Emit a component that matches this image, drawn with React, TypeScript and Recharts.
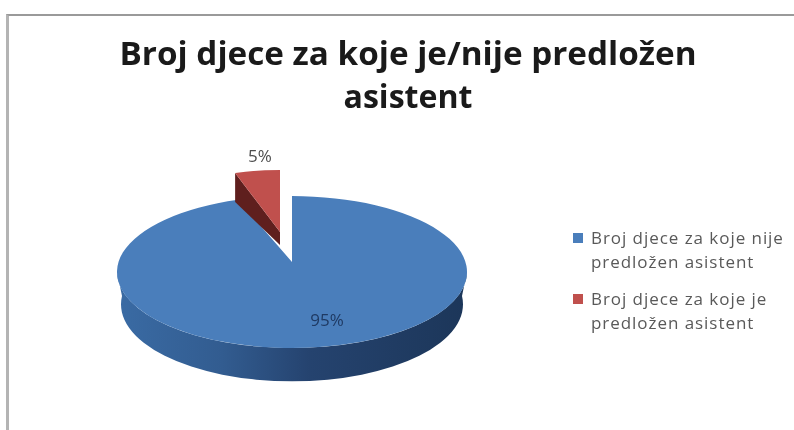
import React from "react";
import { PieChart, Pie, Legend } from "recharts";

const categories = ["Broj djece za koje nije predložen asistent", "Broj djece za koje je predložen asistent"];
const shares = [95, 5];
const legendLines = [
  ["Broj djece za koje nije", "predložen asistent"],
  ["Broj djece za koje je", "predložen asistent"],
];
const titleLines = ["Broj djece za koje je/nije predložen", "asistent"];

const COLORS = ["#4a7ebb", "#c0504d"];
const FONT = "'Open Sans', 'Noto Sans', sans-serif";
const W = 794;
const H = 430;
const CX = 292;
const CY = 272;
const R = 175;
const SQUASH = 0.434;

const rows = categories.map((name, i) => ({ name, value: shares[i], fill: COLORS[i] }));

const rad = (a: number) => (a * Math.PI) / 180;

function Slice3D(props: any) {
  const { cx, cy, outerRadius, startAngle, endAngle, index } = props;
  if (index === 0) {
    const rx = outerRadius;
    const ry = outerRadius * SQUASH;
    const pt = (a: number) => [cx + rx * Math.cos(rad(a)), cy - ry * Math.sin(rad(a))];
    const [sx, sy] = pt(startAngle);
    const [ex, ey] = pt(endAngle);
    return (
      <g>
        <defs>
          <linearGradient id="blueSide" x1="0" x2="1" y1="0" y2="0">
            <stop offset="0" stopColor="#3a6ba4" />
            <stop offset="0.3" stopColor="#325c90" />
            <stop offset="0.55" stopColor="#25436f" />
            <stop offset="1" stopColor="#1c3659" />
          </linearGradient>
        </defs>
        <path
          d={`M${cx - rx} ${cy} A${rx} ${ry} 0 0 0 ${cx + rx} ${cy} L${cx + rx - 5} ${cy + 24} A171 77 0 1 1 ${cx - rx + 5} ${cy + 24} Z`}
          fill="url(#blueSide)"
        />
        <path d={`M${cx} ${cy - 10} L${sx} ${sy} A${rx} ${ry} 0 1 1 ${ex} ${ey} Z`} fill={COLORS[0]} />
      </g>
    );
  }
  const ax = cx - 12;
  const ay = cy - 40;
  const rx = outerRadius * 0.83;
  const ry = outerRadius * 0.355;
  const pt = (a: number) => [ax + rx * Math.cos(rad(a)), ay - ry * Math.sin(rad(a))];
  const [sx, sy] = pt(startAngle);
  const [ex, ey] = pt(endAngle);
  return (
    <g>
      <polygon points={`${sx},${sy} ${ax},${ay} ${ax},${ay + 13} ${sx},${sy + 29}`} fill="#5f1f1e" />
      <path d={`M${ax} ${ay} L${sx} ${sy} A${rx} ${ry} 0 0 1 ${ex} ${ey} Z`} fill={COLORS[1]} />
    </g>
  );
}

const LABEL_OFFSET = [
  { dx: 35, dy: 49, fill: "#1f3a63" },
  { dx: -32, dy: -115, fill: "#4d4d4d" },
];

function SliceLabel(props: any) {
  const { cx, cy, index, value } = props;
  const o = LABEL_OFFSET[index];
  return (
    <text x={cx + o.dx} y={cy + o.dy} textAnchor="middle" dominantBaseline="middle" fontFamily={FONT} fontSize={17} fill={o.fill}>
      {`${value}%`}
    </text>
  );
}

function LegendBlock(props: any) {
  const items = props.payload || [];
  return (
    <div style={{ fontFamily: FONT, fontSize: 17, letterSpacing: 0.95, color: "#595959", lineHeight: "24px" }}>
      {items.map((it: any, i: number) => (
        <div key={i} style={{ position: "relative", paddingLeft: 26, height: 61, whiteSpace: "nowrap" }}>
          <span style={{ position: "absolute", left: 8, top: 7, width: 10, height: 10, background: COLORS[i] }} />
          <div>{legendLines[i][0]}</div>
          <div>{legendLines[i][1]}</div>
        </div>
      ))}
    </div>
  );
}

export default function App() {
  return (
    <div style={{ position: "fixed", left: 0, top: 0, width: W, height: H, background: "#fff", overflow: "hidden", filter: "blur(0.6px)" }}>
      <div style={{ position: "absolute", left: 6, top: 14, right: 0, bottom: 0, borderTop: "2px solid #9a9a9a", borderLeft: "3px solid #b4b4b4" }} />
      <div style={{ position: "absolute", left: 0, top: 0 }}>
        <PieChart width={W} height={H} margin={{ top: 0, right: 0, bottom: 0, left: 0 }}>
          <text x={408} y={65} textAnchor="middle" fontFamily={FONT} fontWeight={700} fontSize={32} fill="#1a1a1a" textLength={577} lengthAdjust="spacingAndGlyphs">
            {titleLines[0]}
          </text>
          <text x={408} y={108} textAnchor="middle" fontFamily={FONT} fontWeight={700} fontSize={32} fill="#1a1a1a" textLength={129} lengthAdjust="spacingAndGlyphs">
            {titleLines[1]}
          </text>
          <Pie
            data={rows}
            dataKey="value"
            nameKey="name"
            cx={CX}
            cy={CY}
            outerRadius={R}
            startAngle={90}
            endAngle={-270}
            paddingAngle={0}
            stroke="none"
            shape={Slice3D}
            label={SliceLabel}
            labelLine={false}
            isAnimationActive={false}
          />
          <Legend content={LegendBlock} wrapperStyle={{ left: 565, top: 226, width: 229 }} />
        </PieChart>
      </div>
    </div>
  );
}
